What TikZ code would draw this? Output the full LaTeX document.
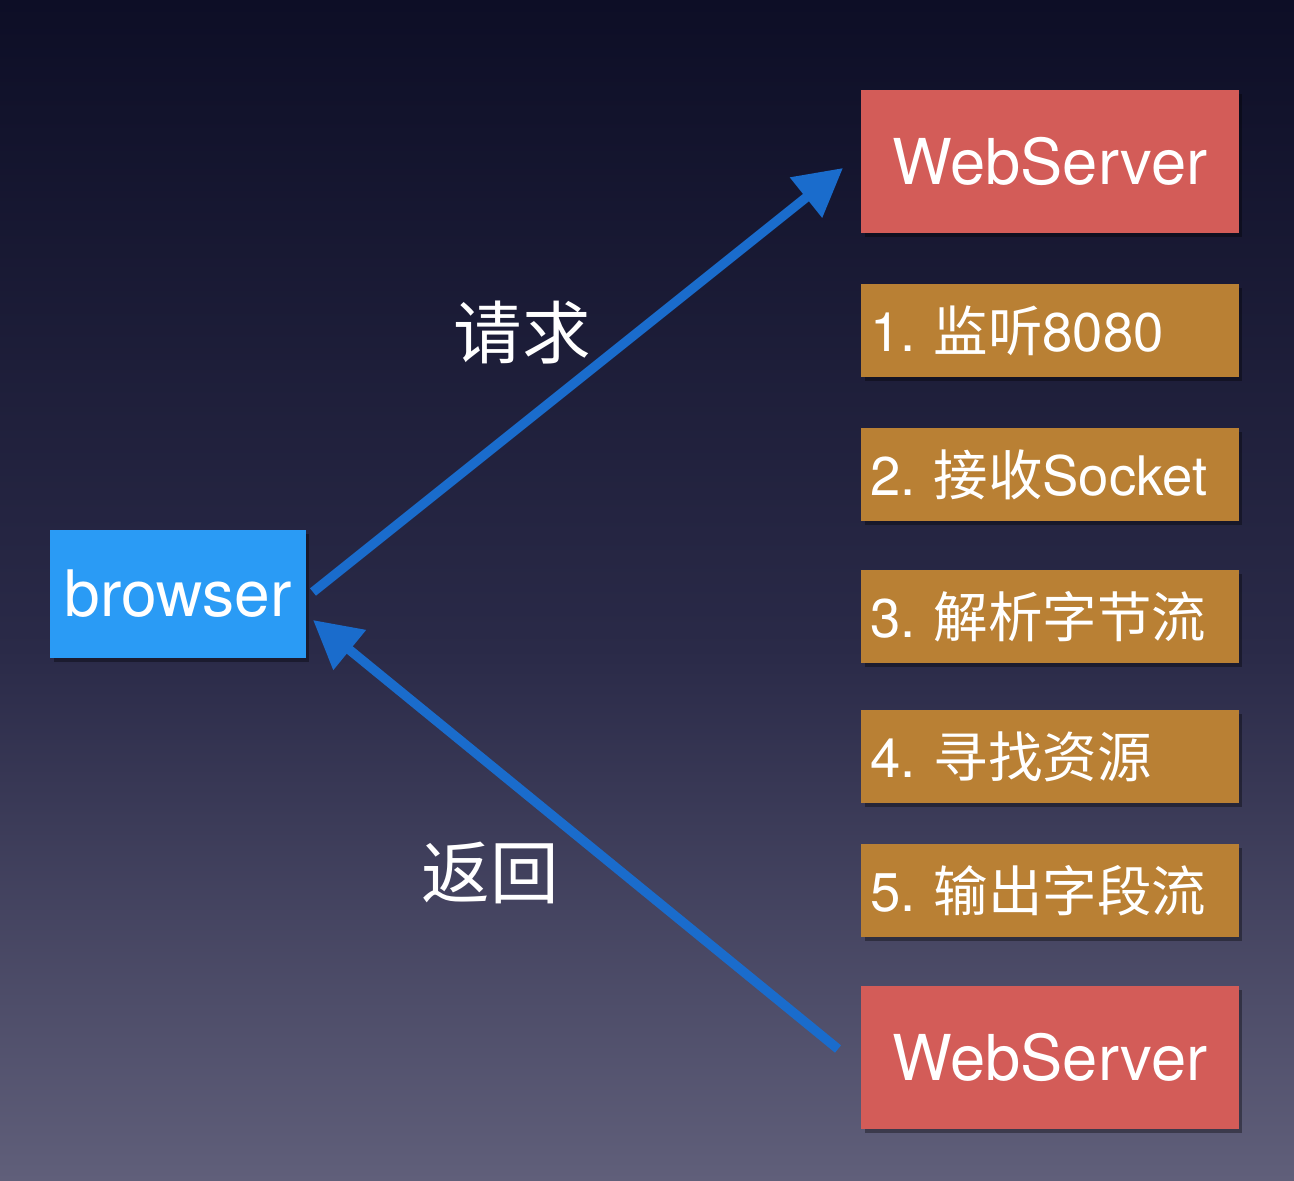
\documentclass[tikz,border=0pt]{standalone}
\usepackage{fontspec}
\setmainfont{TeX Gyre Heros}
\newfontfamily\cjk{Noto Sans CJK SC}
\usetikzlibrary{arrows.meta,shadows}
\frenchspacing
\definecolor{bgtop}{HTML}{0D0E26}
\definecolor{bgmid}{HTML}{2A2A48}
\definecolor{bgbot}{HTML}{605F7A}
\definecolor{wsred}{HTML}{D35C58}
\definecolor{steporange}{HTML}{B98034}
\definecolor{brblue}{HTML}{2A9BF5}
\definecolor{arblue}{HTML}{1A6CCC}
\newcommand{\stepfnt}{\fontsize{31}{34}\selectfont}
\tikzset{
  boxshadow/.style={drop shadow={shadow xshift=2pt,shadow yshift=-2pt,fill=black,opacity=0.35}},
  wsbox/.style={fill=wsred,text=white,minimum width=7.56cm,minimum height=2.86cm,font=\fontsize{36}{38}\selectfont,boxshadow,inner sep=0pt},
  stepbox/.style={fill=steporange,text=white,minimum height=1.86cm,text width=7.2cm,inner xsep=0.18cm,align=left,font=\stepfnt,boxshadow},
  brbox/.style={fill=brblue,text=white,minimum width=5.12cm,minimum height=2.56cm,font=\fontsize{36.5}{38}\selectfont,boxshadow,inner sep=0pt},
  flow/.style={draw=arblue,line width=5.4pt,-{Triangle[length=27pt,width=28pt]}},
  lbl/.style={text=white,font=\cjk\fontsize{39}{42}\selectfont}
}
\begin{document}
\begin{tikzpicture}[x=0.02cm,y=-0.02cm]
\useasboundingbox (0,0) rectangle (1294,1180);
\shade[top color=bgtop,bottom color=bgmid] (0,0) rectangle (1294,650);
\shade[top color=bgmid,bottom color=bgbot] (0,649) rectangle (1294,1180);

\node[wsbox] (ws1) at (1050,161.5) {WebServer};
\node[stepbox] (s1) at (1050,330.5) {\mbox{1. {\cjk 监听}8080}};
\node[stepbox] (s2) at (1050,474.5) {\mbox{2. {\cjk 接收}Socket}};
\node[stepbox] (s3) at (1050,616.5) {\mbox{3. {\cjk 解析字节流}}};
\node[stepbox] (s4) at (1050,756.5) {\mbox{4. {\cjk 寻找资源}}};
\node[stepbox] (s5) at (1050,890.5) {\mbox{5. {\cjk 输出字段流}}};
\node[wsbox] (ws2) at (1050,1057.5) {WebServer};
\node[brbox] (br) at (178,594) {browser};

\coordinate (a1) at (313,592);
\coordinate (a2) at (843,168);
\coordinate (b1) at (838,1049);
\coordinate (b2) at (313,620);
\draw[flow] (a1) -- (a2);
\draw[flow] (b1) -- (b2);

\node[lbl] (req) at (522,333) {请求};
\node[lbl] (ret) at (490,873) {返回};
\end{tikzpicture}
\end{document}
